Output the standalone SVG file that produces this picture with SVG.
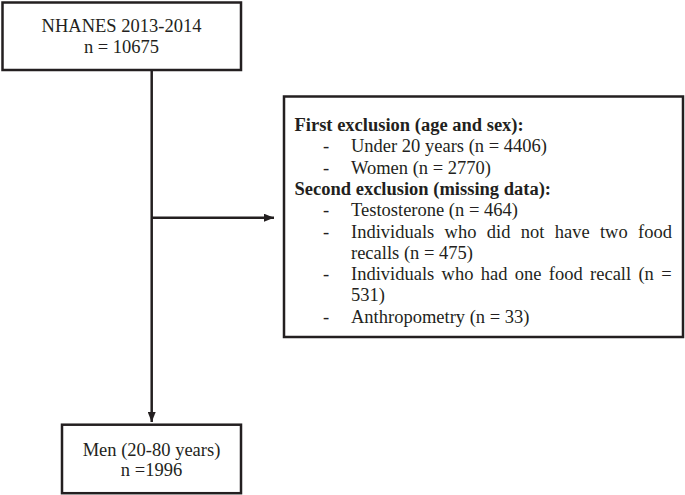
<svg xmlns="http://www.w3.org/2000/svg" width="685" height="495" viewBox="0 0 685 495">
<style>
.box{fill:#fff;stroke:#231f20;stroke-width:2.5}
.t{font-family:"Liberation Serif","Times New Roman",serif;font-size:18.5px;fill:#231f20}
.c{text-anchor:middle}
.b{font-weight:bold}
.ln{stroke:#231f20;stroke-width:2.5;fill:none}
</style>
<defs>
<marker id="ah" markerWidth="10" markerHeight="8" refX="10" refY="4" orient="auto" markerUnits="userSpaceOnUse">
<path d="M0,0 L10,4 L0,8 Z" fill="#231f20"/>
</marker>
</defs>
<rect width="685" height="495" fill="#fff"/>
<g id="connectors">
<line class="ln" x1="151.7" y1="70" x2="151.7" y2="422" marker-end="url(#ah)"/>
<line class="ln" x1="151.7" y1="217.7" x2="274" y2="217.7" marker-end="url(#ah)"/>
</g>
<g id="node-nhanes">
<rect class="box" x="2.5" y="2.5" width="238.5" height="67.5"/>
<text class="t c" x="121.5" y="32">NHANES 2013-2014</text>
<text class="t c" x="121.5" y="53">n = 10675</text>
</g>
<g id="node-exclusion">
<rect class="box" x="284" y="96.5" width="399" height="240.5"/>
<text class="t b" x="294.5" y="131">First exclusion (age and sex):</text>
<text class="t" x="323" y="152.3">-</text>
<text class="t" x="351" y="152.3">Under 20 years (n = 4406)</text>
<text class="t" x="323" y="173.6">-</text>
<text class="t" x="351" y="173.6">Women (n = 2770)</text>
<text class="t b" x="294.5" y="194.9">Second exclusion (missing data):</text>
<text class="t" x="323" y="216.2">-</text>
<text class="t" x="351" y="216.2">Testosterone (n = 464)</text>
<text class="t" x="323" y="237.5">-</text>
<text class="t" x="351" y="237.5" word-spacing="5.7">Individuals who did not have two food</text>
<text class="t" x="351" y="258.8">recalls (n = 475)</text>
<text class="t" x="323" y="280.1">-</text>
<text class="t" x="351" y="280.1" word-spacing="2.7">Individuals who had one food recall (n =</text>
<text class="t" x="351" y="301.4">531)</text>
<text class="t" x="323" y="322.7">-</text>
<text class="t" x="351" y="322.7">Anthropometry (n = 33)</text>
</g>
<g id="node-men">
<rect class="box" x="62" y="424.7" width="179" height="68.5"/>
<text class="t c" x="151.5" y="456">Men (20-80 years)</text>
<text class="t c" x="151.5" y="476">n =1996</text>
</g>
</svg>
